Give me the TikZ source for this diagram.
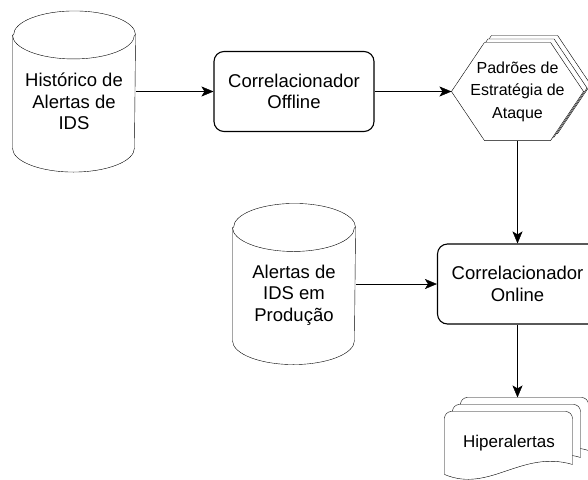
\documentclass[tikz,border=0pt]{standalone}
\usepackage{fontspec}
\setmainfont{Liberation Sans}
\usetikzlibrary{arrows.meta,calc}
\pgfdeclarelayer{back}
\pgfsetlayers{back,main}

\begin{document}
\begin{tikzpicture}[x=1pt, y=-1pt, line width=1.1pt]
		\useasboundingbox (0,0) rectangle (588,479);
		\tikzstyle{every node} = [align=center, font=\fontsize{18.5}{21.5}\selectfont]
		\tikzstyle{box} = [draw, fill=white, rectangle, rounded corners=10pt, minimum width=160pt, minimum height=80pt]
		\tikzstyle{frame} = [rectangle, inner sep=0pt]
		\tikzstyle{base} = [frame, minimum width=122pt, minimum height=160pt]
		\tikzstyle{sheet} = [draw, fill=white]
		\tikzstyle{link} = [->, >={Stealth[length=12pt, width=10pt, inset=3pt]}]
		\node[base, label={[yshift=-10pt]center:Histórico de\\Alertas de\\IDS}] (hist) at (74, 91.5) {};
		\node[box] (off) at (294, 91.5) {Correlacionador\\Offline};
		\node[frame, minimum width=131pt, minimum height=97pt, font=\fontsize{16}{22.5}\selectfont] (pat) at (517.5, 91.5) {Padrões de\\Estratégia de\\Ataque};
		\node[base, label={[yshift=-11pt]center:Alertas de\\IDS em\\Produção}] (prod) at (294, 284) {};
		\node[box] (on) at (517.5, 284) {Correlacionador\\Online};
		\node[frame, minimum width=128pt, minimum height=63pt, font=\fontsize{17}{20}\selectfont] (hip) at (509, 443.5) {Hiperalertas};
		\coordinate (hiptop) at ([yshift=14pt]hip.north);
		\begin{pgfonlayer}{back}
			% cylinders
			\foreach \c in {hist, prod} {
				\draw[sheet] ($(\c.north west)+(0,24)$) -- ($(\c.south west)+(0,-24)$)
					arc[start angle=180, end angle=0, x radius=61, y radius=24] -- ($(\c.north east)+(0,24)$)
					arc[start angle=360, end angle=180, x radius=61, y radius=24] -- cycle;
				\draw ($(\c.north west)+(0,24)$) arc[start angle=180, end angle=0, x radius=61, y radius=24];
			}
			% stacked hexagons
			\foreach \s in {7, 3.5, 0}
			\draw[sheet] ([xshift=\s pt, yshift=\s pt]pat.west) -- ([xshift={33pt+\s pt}, yshift=\s pt]pat.north west)
				-- ([xshift={-33pt+\s pt}, yshift=\s pt]pat.north east) -- ([xshift=\s pt, yshift=\s pt]pat.east)
				-- ([xshift={-33pt+\s pt}, yshift=\s pt]pat.south east) -- ([xshift={33pt+\s pt}, yshift=\s pt]pat.south west) -- cycle;
			% stacked documents
			\foreach \s/\t in {16/14, 8/7, 0/0} {
				\coordinate (d) at ([xshift=\s pt, yshift=\t pt]hip.north west);
				\draw[sheet, rounded corners=7pt] ($(d)+(0,63)$) -- (d) -- ($(d)+(128,0)$)
					[sharp corners] -- ($(d)+(128,53)$) .. controls ($(d)+(77,38)$) and ($(d)+(45,82)$) .. ($(d)+(0,63)$) -- cycle;
			}
		\end{pgfonlayer}
		\foreach \from/\to in {hist/off, off/pat, pat/on, prod/on}
		\draw [link] (\from) -- (\to);
		\draw [link] (on) -- (on |- hiptop);
	\end{tikzpicture}
\end{document}
